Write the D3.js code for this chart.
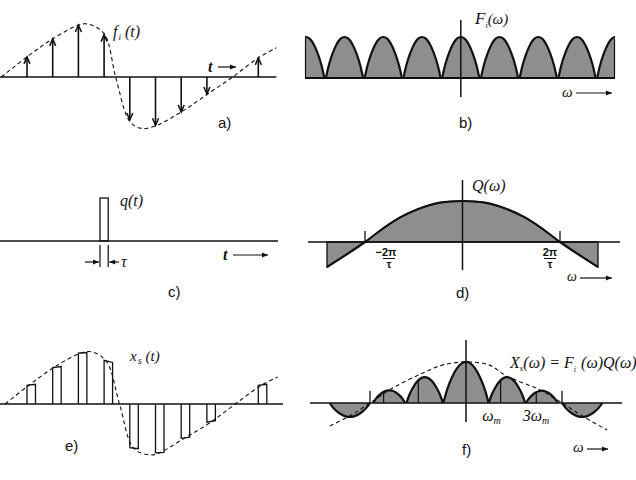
<!DOCTYPE html>
<html><head><meta charset="utf-8">
<script src="https://cdn.jsdelivr.net/npm/d3@7"></script>
<style>
body{margin:0;background:#fff}
svg{display:block}
.math{font-family:"Liberation Serif","DejaVu Serif",serif;font-style:italic;fill:#111}
.lab{font-family:"Liberation Sans","DejaVu Sans",sans-serif;fill:#111}
</style>
</head><body>
<svg id="c" width="636" height="480"></svg>
<script>
// ---------------- DATA ----------------
// a) sampled signal f_i(t): impulses at sample instants
const sampleTimes  = [1, 2, 3, 4, 5, 6, 7, 8, 9, 10];
const sampleValues = [0.38, 0.72, 0.98, 0.80, -0.81, -0.91, -0.66, -0.32, 0, 0.36];
// a) dashed envelope f(t)
const envATime  = [0, 1, 2, 3, 3.35, 4, 4.45, 5, 5.45, 6, 7, 8, 9, 10, 10.7];
const envAValue = [0, 0.38, 0.72, 0.98, 1.0, 0.82, 0, -0.84, -0.97, -0.92, -0.66, -0.33, 0, 0.36, 0.55];
// b) periodic spectrum F_i(omega): one arch profile, repeated at each centre
const archOffset = [-0.48, -0.4, -0.3, -0.2, -0.1, 0, 0.1, 0.2, 0.3, 0.4, 0.48];
const archHeight = [0, 0.33, 0.62, 0.83, 0.96, 1, 0.96, 0.83, 0.62, 0.33, 0];
const archCenters = [-4, -3, -2, -1, 0, 1, 2, 3, 4];
// c) pulse q(t)
const qPulseStart = 3.84, qPulseWidth = 0.32, qPulseHeight = 1;
// d) Q(omega), omega in units of 2π/τ
const qOmega = [-1.39, -1.2, -1.0, -0.81, -0.64, -0.46, -0.23, 0, 0.23, 0.46, 0.64, 0.81, 1.0, 1.2, 1.39];
const qValue = [-0.61, -0.32, 0, 0.34, 0.6, 0.8, 0.96, 1, 0.96, 0.8, 0.6, 0.34, 0, -0.32, -0.61];
const qTicks = [-1, 1];
const qTickLabels = ["−2π", "2π"];
// e) flat-top samples x_s(t): pulse start, left/right top values
const pulseTimes = [1, 2, 3, 4, 5, 6, 7, 8, 10];
const pulseLeft  = [0.36, 0.70, 0.98, 0.84, -0.84, -0.94, -0.66, -0.35, 0.36];
const pulseRight = [0.38, 0.72, 0.99, 0.80, -0.86, -0.93, -0.64, -0.32, 0.38];
const pulseWidth = 0.33;
const envETime  = [0.15, 1.1, 2.1, 3.1, 3.55, 4.1, 4.6, 5.15, 5.8, 6.15, 7.15, 8.15, 9.1, 10.15, 10.75];
const envEValue = [0, 0.37, 0.72, 0.98, 1.0, 0.81, 0, -0.85, -0.98, -0.94, -0.65, -0.35, 0, 0.37, 0.52];
// f) X_s(omega) lobes: centre, half-width, peak
const lobeCenter = [-1.21, -0.80, -0.43, 0, 0.427, 0.79, 1.21];
const lobeHalf   = [0.21, 0.167, 0.19, 0.235, 0.19, 0.165, 0.21];
const lobePeak   = [-0.34, 0.31, 0.63, 1.0, 0.63, 0.30, -0.34];
const envFOmega = [-1.417, -1.2, -1.0, -0.76, -0.45, -0.24, 0, 0.24, 0.42, 0.77, 1.0, 1.2, 1.47];
const envFValue = [-0.56, -0.3, 0, 0.37, 0.73, 0.93, 1, 0.93, 0.66, 0.32, 0, -0.3, -0.66];
const fTicks = [-1, 1];
const fTickLabels = ["ω", "3ω"];
const fTickLabelPos = [0.17, 0.59];
const panelLabels = ["a)", "b)", "c)", "d)", "e)", "f)"];

// ---------------- DRAWING ----------------
const svg = d3.select("#c");
const INK = "#111", GREY = "#8e8e8e";

function hline(g, x1, x2, y, w) {
  g.append("line").attr("x1", x1).attr("x2", x2).attr("y1", y).attr("y2", y)
   .attr("stroke", INK).attr("stroke-width", w || 1.5);
}
function vline(g, x, y1, y2, w) {
  g.append("line").attr("x1", x).attr("x2", x).attr("y1", y1).attr("y2", y2)
   .attr("stroke", INK).attr("stroke-width", w || 1.5);
}
function arrowRight(g, x1, x2, y) {
  hline(g, x1, x2, y, 1.2);
  g.append("path").attr("d", `M${x2-6},${y-2.5}L${x2},${y}L${x2-6},${y+2.5}Z`).attr("fill", INK);
}
function arrowLeft(g, x1, x2, y) { // x1 > x2, head at x2
  hline(g, x2, x1, y, 1.2);
  g.append("path").attr("d", `M${x2+6},${y-2.5}L${x2},${y}L${x2+6},${y+2.5}Z`).attr("fill", INK);
}
function dashed(g, pts, x, y) {
  g.append("path").datum(pts)
   .attr("d", d3.line().x(d => x(d[0])).y(d => y(d[1])).curve(d3.curveCatmullRom.alpha(0.5)))
   .attr("fill", "none").attr("stroke", INK).attr("stroke-width", 1.1).attr("stroke-dasharray", "4,3");
}

// ---- a)
const xT = d3.scaleLinear().domain([0, 10.7]).range([1.3, 276.3]);
const yA = d3.scaleLinear().domain([-1, 1]).range([130, 24]);
const gA = svg.append("g");
hline(gA, 0, xT(10.7), yA(0), 1.6);
dashed(gA, d3.zip(envATime, envAValue), xT, yA);
sampleTimes.forEach((t, i) => {
  const v = sampleValues[i];
  if (v === 0) return;
  const x = xT(t), y = yA(v), s = v > 0 ? 1 : -1;
  vline(gA, x, yA(0), y, 1.6);
  gA.append("path").attr("d", `M${x-3},${y+7*s}L${x},${y}L${x+3},${y+7*s}`)
    .attr("fill", "none").attr("stroke", INK).attr("stroke-width", 1.5);
});
const fa = gA.append("text").attr("class", "math").attr("x", 113).attr("y", 37).attr("font-size", 16);
fa.append("tspan").text("f");
fa.append("tspan").attr("font-size", 9).attr("dy", 3).attr("dx", 1).text("i");
fa.append("tspan").attr("dy", -3).attr("dx", 4).text("(t)");
gA.append("text").attr("class", "math").attr("x", 208).attr("y", 72).attr("font-size", 16).attr("font-weight", "bold").text("t");
arrowRight(gA, 218, 236, 67);

// ---- b)
const xB = d3.scaleLinear().domain([-4.02, 3.98]).range([305, 615]);
const yB = d3.scaleLinear().domain([0, 1]).range([78, 37]);
const gB = svg.append("g");
svg.append("clipPath").attr("id", "clipB").append("rect").attr("x", xB(-4.02)).attr("y", 0).attr("width", xB(3.98) - xB(-4.02)).attr("height", 120);
const gBc = gB.append("g").attr("clip-path", "url(#clipB)");
archCenters.forEach(c => {
  const pts = archOffset.map((o, i) => [c + o, archHeight[i]]);
  gBc.append("path").datum(pts)
    .attr("d", d3.area().x(d => xB(d[0])).y0(yB(0)).y1(d => yB(d[1])).curve(d3.curveCatmullRom.alpha(0.5)))
    .attr("fill", GREY);
  gBc.append("path").datum(pts)
    .attr("d", d3.line().x(d => xB(d[0])).y(d => yB(d[1])).curve(d3.curveCatmullRom.alpha(0.5)))
    .attr("fill", "none").attr("stroke", INK).attr("stroke-width", 2.2);
});
vline(gB, xB(-4.02) + 0.5, yB(0), yB(0.97), 1.2);
vline(gB, xB(3.98) - 0.5, yB(0), yB(0.95), 1.2);
hline(gB, xB(-4.02), xB(3.98), yB(0), 1.8);
vline(gB, xB(0), 20, 97, 1.5);
const fb = gB.append("text").attr("class", "math").attr("x", 475).attr("y", 24).attr("font-size", 17);
fb.append("tspan").text("F");
fb.append("tspan").attr("font-size", 8).attr("dy", 4).text("i");
fb.append("tspan").attr("dy", -4).attr("font-size", 15).text("(ω)");
gB.append("text").attr("class", "math").attr("x", 562).attr("y", 97).attr("font-size", 15).text("ω");
arrowRight(gB, 576, 612, 93);

// ---- c)
const yC = d3.scaleLinear().domain([0, 1]).range([241, 198]);
const gC = svg.append("g");
gC.append("rect").attr("x", xT(qPulseStart)).attr("y", yC(qPulseHeight))
  .attr("width", xT(qPulseStart + qPulseWidth) - xT(qPulseStart)).attr("height", yC(0) - yC(qPulseHeight))
  .attr("fill", "none").attr("stroke", INK).attr("stroke-width", 1.3);
hline(gC, 0, 278, yC(0), 1.5);
vline(gC, xT(qPulseStart), yC(0) + 4, 267, 1.2);
vline(gC, xT(qPulseStart + qPulseWidth), yC(0) + 4, 267, 1.2);
arrowRight(gC, 85, xT(qPulseStart) - 1, 262);
arrowLeft(gC, 119, xT(qPulseStart + qPulseWidth) + 1, 262);
gC.append("text").attr("class", "math").attr("x", 121).attr("y", 267).attr("font-size", 16).text("τ");
gC.append("text").attr("class", "math").attr("x", 120).attr("y", 206).attr("font-size", 16).text("q(t)");
gC.append("text").attr("class", "math").attr("x", 223).attr("y", 260).attr("font-size", 16).attr("font-weight", "bold").text("t");
arrowRight(gC, 233, 268, 255);

// ---- d)
const xD = d3.scaleLinear().domain([-1, 1]).range([365, 560]);
const yD = d3.scaleLinear().domain([0, 1]).range([242, 201]);
const gD = svg.append("g");
const qPts = d3.zip(qOmega, qValue);
gD.append("path").datum(qPts)
  .attr("d", d3.area().x(d => xD(d[0])).y0(yD(0)).y1(d => yD(d[1])).curve(d3.curveCatmullRom.alpha(0.5)))
  .attr("fill", GREY).attr("stroke", INK).attr("stroke-width", 1.3);
gD.append("path").datum(qPts)
  .attr("d", d3.line().x(d => xD(d[0])).y(d => yD(d[1])).curve(d3.curveCatmullRom.alpha(0.5)))
  .attr("fill", "none").attr("stroke", INK).attr("stroke-width", 2.2);
hline(gD, 308, 620, yD(0), 1.5);
vline(gD, xD(0), 180, 270, 1.5);
qTicks.forEach((t, i) => {
  vline(gD, xD(t), yD(0.27), yD(0), 1.3);
  const cx = xD(t) + (t < 0 ? 24 : -10);
  const g = gD.append("g");
  g.append("text").attr("class", "lab").attr("x", cx + (t < 0 ? -3 : 0)).attr("y", 256).attr("text-anchor", "middle")
    .attr("font-size", 11).attr("font-weight", "bold").text(qTickLabels[i]);
  hline(g, cx - 6, cx + 6, 258.5, 1);
  g.append("text").attr("class", "lab").attr("x", cx).attr("y", 268).attr("text-anchor", "middle")
    .attr("font-size", 11).attr("font-weight", "bold").text("τ");
});
gD.append("text").attr("class", "math").attr("x", 472).attr("y", 191).attr("font-size", 16).text("Q(ω)");
gD.append("text").attr("class", "math").attr("x", 567).attr("y", 281).attr("font-size", 14).text("ω");
arrowRight(gD, 580, 612, 278);

// ---- e)
const yE = d3.scaleLinear().domain([-1, 1]).range([456, 352]);
const gE = svg.append("g");
hline(gE, 0, 283, yE(0), 1.5);
dashed(gE, d3.zip(envETime, envEValue), xT, yE);
pulseTimes.forEach((t, i) => {
  const x1 = xT(t), x2 = xT(t + pulseWidth), y0 = yE(0);
  gE.append("path").attr("d", `M${x1},${y0}L${x1},${yE(pulseLeft[i])}L${x2},${yE(pulseRight[i])}L${x2},${y0}`)
    .attr("fill", "none").attr("stroke", INK).attr("stroke-width", 1.3);
});
const xe = gE.append("text").attr("class", "math").attr("x", 130).attr("y", 361).attr("font-size", 15);
xe.append("tspan").text("x");
xe.append("tspan").attr("font-size", 10).attr("dy", 3).attr("dx", 1).text("s");
xe.append("tspan").attr("dy", -3).attr("dx", 4).text("(t)");

// ---- f)
const xF = d3.scaleLinear().domain([-1, 1]).range([370, 562]);
const yF = d3.scaleLinear().domain([0, 1]).range([403, 362]);
const gF = svg.append("g");
lobeCenter.forEach((c, k) => {
  const pts = archOffset.map((o, i) => [c + o / 0.48 * lobeHalf[k], archHeight[i] * lobePeak[k]]);
  gF.append("path").datum(pts)
    .attr("d", d3.area().x(d => xF(d[0])).y0(yF(0)).y1(d => yF(d[1])).curve(d3.curveCatmullRom.alpha(0.5)))
    .attr("fill", GREY);
  gF.append("path").datum(pts)
    .attr("d", d3.line().x(d => xF(d[0])).y(d => yF(d[1])).curve(d3.curveCatmullRom.alpha(0.5)))
    .attr("fill", "none").attr("stroke", INK).attr("stroke-width", 2.2);
  if (lobePeak[k] > 0 && c !== 0) vline(gF, xF(c - lobeHalf[k] * 0.35), yF(0), yF(lobePeak[k] * 0.85), 1.2);
});
hline(gF, xF(-0.035), xF(0.035), yF(1), 1.5);
dashed(gF, d3.zip(envFOmega, envFValue), xF, yF);
hline(gF, 310, 622, yF(0), 1.5);
vline(gF, xF(0), 340, 422, 1.5);
fTicks.forEach(t => vline(gF, xF(t), yF(0.3), yF(0), 1.3));
fTickLabels.forEach((s, i) => {
  const t = gF.append("text").attr("class", "math").attr("x", xF(fTickLabelPos[i])).attr("y", 421).attr("font-size", 16);
  t.append("tspan").text(s);
  t.append("tspan").attr("font-size", 10).attr("dy", 3).text("m");
});
const xs = gF.append("text").attr("class", "math").attr("x", 510).attr("y", 368).attr("font-size", 16);
xs.append("tspan").text("X");
xs.append("tspan").attr("font-size", 9).attr("dy", 3).text("s");
xs.append("tspan").attr("dy", -3).text("(ω) = F");
xs.append("tspan").attr("font-size", 8).attr("dy", 4).text("i");
xs.append("tspan").attr("dy", -4).attr("dx", 5).text("(ω)Q(ω)");
gF.append("text").attr("class", "math").attr("x", 573).attr("y", 452).attr("font-size", 15).text("ω");
arrowRight(gF, 587, 608, 449);

// ---- panel letters
const labelPos = [[218, 128], [459, 128], [168, 297], [456, 298], [65, 451], [462, 455]];
panelLabels.forEach((s, i) => {
  svg.append("text").attr("class", "lab").attr("x", labelPos[i][0]).attr("y", labelPos[i][1])
    .attr("font-size", 15).text(s);
});
</script>
</body></html>
